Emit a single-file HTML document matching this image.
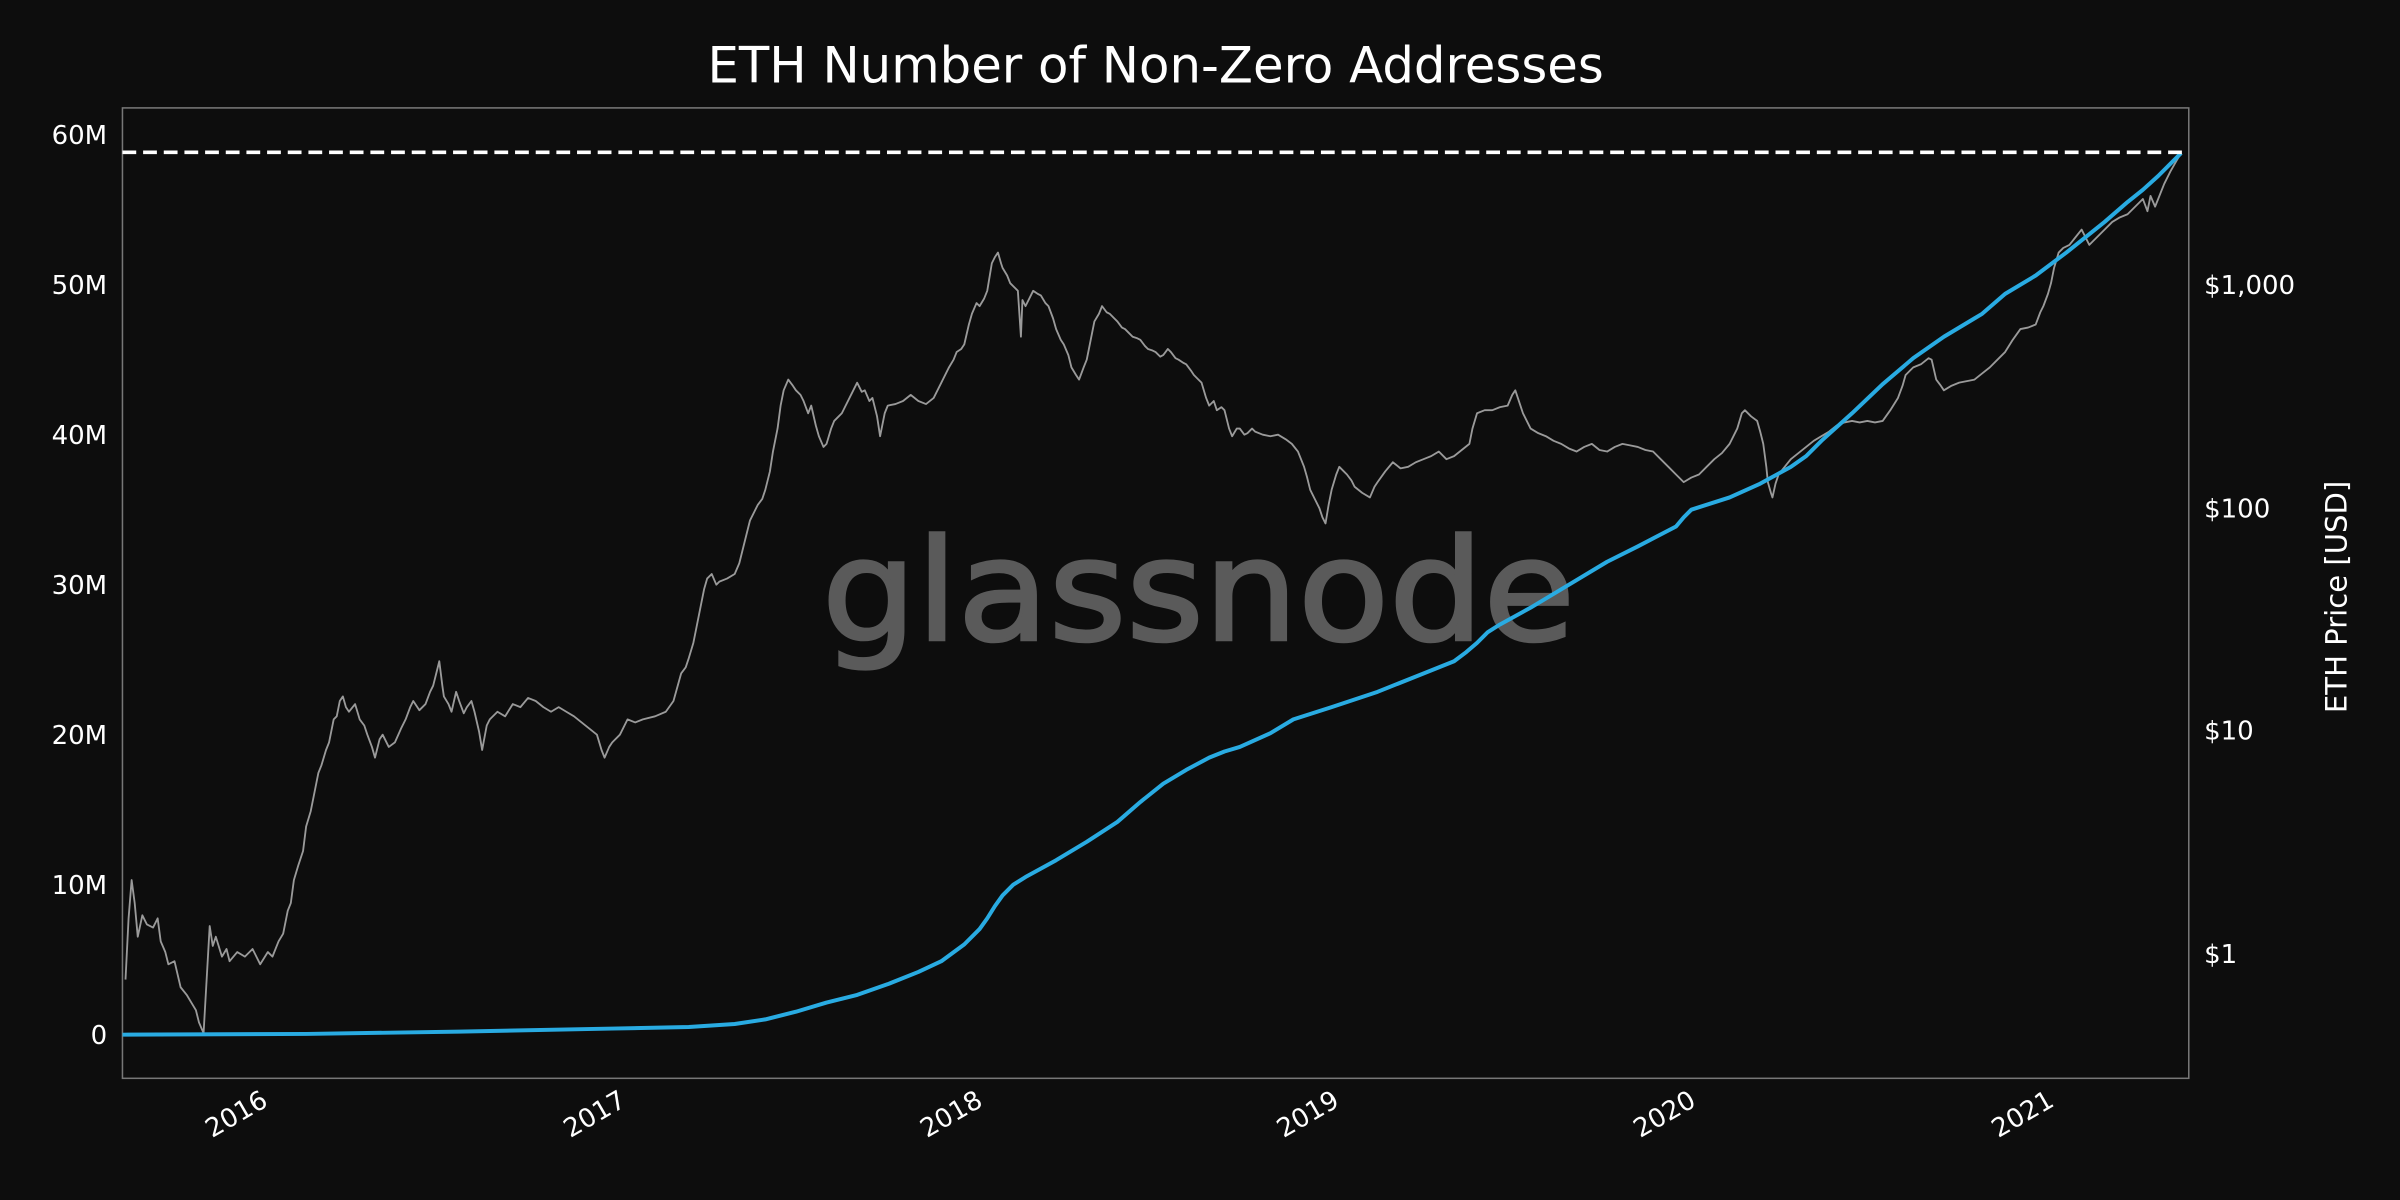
<!DOCTYPE html>
<html><head><meta charset="utf-8"><style>
html,body{margin:0;padding:0;background:#0d0d0d;}
svg{display:block;}
text{font-family:"DejaVu Sans","Liberation Sans",sans-serif;fill:#fff;}
</style></head><body>
<svg width="2400" height="1200" viewBox="0 0 1568 784" xmlns="http://www.w3.org/2000/svg">
<rect width="1568" height="784" fill="#0d0d0d"/>
<text x="755" y="54" font-size="32.5" text-anchor="middle">ETH Number of Non-Zero Addresses</text>
<text x="783" y="418" font-size="92" text-anchor="middle" textLength="492" lengthAdjust="spacingAndGlyphs" style="fill:#5a5a5a;font-family:'DejaVu Sans',sans-serif;stroke:#5a5a5a;stroke-width:2">glassnode</text>
<rect x="80" y="70.5" width="1350" height="634" fill="none" stroke="#777" stroke-width="1"/>
<g font-size="17" text-anchor="end">
<text x="70" y="94">60M</text>
<text x="70" y="192">50M</text>
<text x="70" y="290">40M</text>
<text x="70" y="388">30M</text>
<text x="70" y="486">20M</text>
<text x="70" y="584">10M</text>
<text x="70" y="682">0</text>
</g>
<g font-size="17">
<text x="1440" y="192">$1,000</text>
<text x="1440" y="338">$100</text>
<text x="1440" y="483">$10</text>
<text x="1440" y="629">$1</text>
</g>
<text transform="translate(1533,390) rotate(-90)" font-size="19" text-anchor="middle">ETH Price [USD]</text>
<g font-size="17" text-anchor="end">
<text transform="translate(176,722) rotate(-30)">2016</text>
<text transform="translate(410,722) rotate(-30)">2017</text>
<text transform="translate(643,722) rotate(-30)">2018</text>
<text transform="translate(876,722) rotate(-30)">2019</text>
<text transform="translate(1109,722) rotate(-30)">2020</text>
<text transform="translate(1343,722) rotate(-30)">2021</text>
</g>
<polyline fill="none" stroke="#9a9a9a" stroke-width="1.2" stroke-linejoin="round" points="82,640 84,600 86,575 88,590 90,612 93,598 96,604 100,606 103,600 105,615 108,622 110,630 114,628 118,645 122,650 125,655 128,660 130,668 133,675 135,640 137,605 139,618 141,612 145,625 148,620 150,628 155,622 160,625 165,620 170,630 175,622 178,625 182,615 185,610 188,595 190,590 192,575 195,565 198,556 200,540 203,530 205,520 208,505 210,500 213,490 215,485 218,470 220,468 222,458 224,455 226,462 228,465 232,460 235,470 238,474 240,480 243,488 245,495 248,483 250,480 254,488 258,485 262,476 265,470 268,462 270,458 274,464 278,460 281,452 283,448 285,440 287,432 289,448 290,455 293,460 295,465 298,452 300,458 303,466 305,462 308,458 310,465 313,478 315,490 318,474 320,470 325,465 330,468 335,460 340,462 345,456 350,458 355,462 360,465 365,462 370,465 375,468 380,472 385,476 390,480 393,490 395,495 398,488 400,485 405,480 408,474 410,470 415,472 420,470 428,468 435,465 440,458 445,440 448,436 450,430 453,420 455,410 458,395 460,385 462,378 465,375 468,382 470,380 475,378 480,375 483,368 485,360 488,348 490,340 493,334 495,330 498,326 500,320 503,308 505,295 508,280 510,265 512,255 515,248 518,252 520,255 523,258 525,262 528,270 530,265 533,278 535,285 538,292 540,290 543,280 545,275 548,272 550,270 555,260 560,250 563,256 565,255 568,262 570,260 573,272 575,285 578,270 580,265 585,264 590,262 595,258 600,262 605,264 610,260 615,250 620,240 623,235 625,230 628,228 630,225 633,212 635,205 638,198 640,200 643,195 645,190 647,178 648,172 650,168 652,165 654,172 655,175 658,180 660,185 663,188 665,190 667,220 668,196 670,200 673,194 675,190 678,192 680,193 683,198 685,200 688,208 690,215 693,222 695,225 698,232 700,240 703,245 705,248 708,240 710,235 712,225 715,210 718,205 720,200 723,204 725,205 728,208 730,210 733,214 735,215 738,218 740,220 743,221 745,222 748,226 750,228 753,229 755,230 758,233 760,232 763,228 765,230 768,234 770,235 773,237 775,238 778,242 780,245 783,248 785,250 788,260 790,265 793,262 795,268 798,266 800,268 803,280 805,285 808,280 810,280 813,284 815,283 818,280 820,282 825,284 830,285 835,284 840,287 844,290 848,295 850,300 852,305 854,312 856,320 859,326 862,332 864,338 866,342 868,330 870,320 873,310 875,305 878,308 880,310 883,314 885,318 890,322 895,325 898,318 900,315 905,308 910,302 915,306 920,305 925,302 930,300 935,298 940,295 945,300 950,298 955,294 960,290 962,280 965,270 970,268 975,268 980,266 985,265 988,258 990,255 993,264 995,270 998,276 1000,280 1005,283 1010,285 1015,288 1020,290 1025,293 1030,295 1035,292 1040,290 1045,294 1050,295 1055,292 1060,290 1065,291 1070,292 1075,294 1080,295 1085,300 1090,305 1095,310 1100,315 1105,312 1110,310 1115,305 1120,300 1125,296 1130,290 1135,280 1138,270 1140,268 1144,272 1148,275 1150,282 1152,290 1154,305 1155,315 1157,322 1158,325 1160,316 1162,310 1166,305 1170,300 1175,296 1180,292 1185,288 1190,285 1195,282 1200,278 1205,276 1210,275 1215,276 1220,275 1225,276 1230,275 1235,268 1240,260 1243,252 1245,245 1248,242 1250,240 1255,238 1260,234 1262,235 1265,248 1268,252 1270,255 1275,252 1280,250 1285,249 1290,248 1295,244 1300,240 1305,235 1310,230 1315,222 1320,215 1325,214 1330,212 1333,204 1335,200 1338,192 1340,185 1342,175 1345,165 1348,162 1352,160 1356,155 1360,150 1365,160 1370,155 1375,150 1380,145 1385,142 1390,140 1395,135 1400,130 1403,138 1405,128 1408,135 1410,130 1414,120 1418,112 1422,105 1425,100"/>
<polyline fill="none" stroke="#29abe2" stroke-width="2.6" stroke-linejoin="round" points="80,676 200,675.5 300,674 400,672 450,671 480,669 500,666 520,661 540,655 560,650 580,643 600,635 615,628 630,617 640,607 645,600 650,592 655,585 662,578 670,573 690,562 710,550 730,537 745,524 760,512 775,503 790,495 800,491 810,488 830,479 845,470 870,462 900,452 930,440 950,432 958,426 965,420 972,413 980,408 1000,397 1020,385 1050,367 1070,357 1095,344 1100,338 1105,333 1130,325 1150,316 1170,305 1180,298 1190,288 1210,270 1230,251 1250,234 1270,220 1290,208 1295,205 1310,192 1330,180 1350,165 1375,145 1390,132 1400,124 1410,115 1425,100"/>
<line x1="80" y1="99.5" x2="1430" y2="99.5" stroke="#fff" stroke-width="2.4" stroke-dasharray="9,4.5"/>
</svg>
</body></html>
